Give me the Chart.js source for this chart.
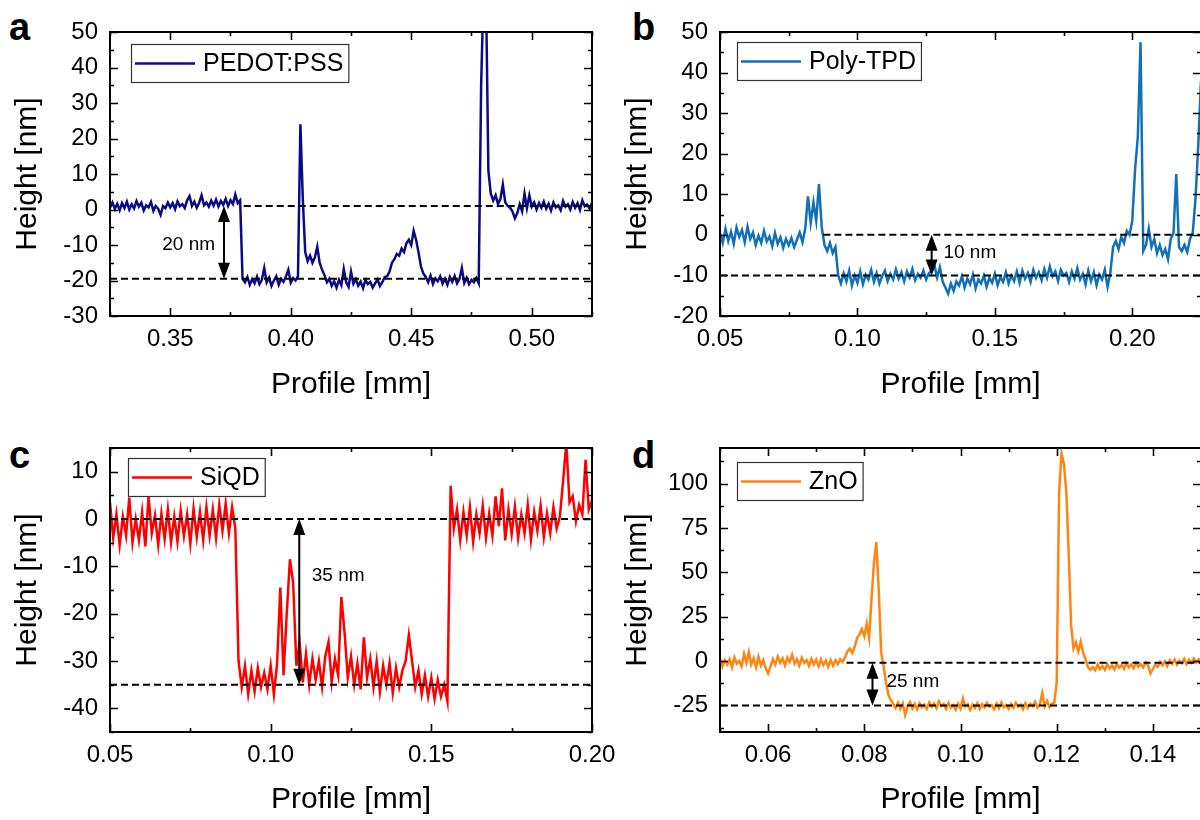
<!DOCTYPE html>
<html>
<head>
<meta charset="utf-8">
<script src="https://cdn.jsdelivr.net/npm/chart.js@4/dist/chart.umd.min.js"></script>
<style>
  html, body { margin: 0; padding: 0; background: #fff; overflow: hidden; }
  body { width: 1200px; height: 820px; position: relative; font-family: "Liberation Sans", Arial, sans-serif; }
  canvas { position: absolute; }
  .tag { position: absolute; font-weight: bold; font-size: 38px; line-height: 1; color: #000; }
</style>
</head>
<body>
<div class="tag" style="left:9px;top:8px">a</div>
<div class="tag" style="left:632px;top:8px">b</div>
<div class="tag" style="left:9px;top:436px">c</div>
<div class="tag" style="left:632px;top:436px">d</div>
<canvas id="chartB" width="600" height="410" style="left:610px;top:0"></canvas>
<canvas id="chartD" width="600" height="410" style="left:610px;top:410px"></canvas>
<canvas id="chartA" width="630" height="410" style="left:0;top:0"></canvas>
<canvas id="chartC" width="630" height="410" style="left:0;top:410px"></canvas>
<script>
// ---- data (height in nm at evenly spaced profile positions) ----

// a: PEDOT:PSS, 0.325 mm .. 0.525 mm every 0.001 mm
const pedotStart = 0.325, pedotStep = 0.001;
const pedotHeight = [
  0.5, 2.0, 0.2, 1.6, -0.2, 1.8, 0.4, 2.2, 0.0, 1.5,
  0.3, 2.4, 0.8, 1.9, -0.3, 1.2, 0.6, 2.1, -0.4, 1.0,
  0.2, -1.5, 1.0, 0.4, 2.0, 0.6, 1.8, 0.1, 2.3, 0.9,
  1.5, 0.4, 2.6, 3.8, 1.0, 2.2, 0.5, 1.9, 4.0, 1.2,
  2.0, 0.8, 2.5, 1.1, 2.8, 0.9, 2.4, 1.3, 3.0, 1.0,
  2.6, 1.5, 4.2, 1.8, 2.6, -19.5, -20.5, -19.0, -21.2, -19.6,
  -20.8, -18.9, -21.0, -19.8, -16.5, -20.5, -19.2, -21.5, -20.0, -18.8,
  -21.2, -19.5, -20.4, -18.9, -17.0, -20.6, -19.3, -20.0, -18.8, 24,
  3, -12, -14.5, -13, -15, -13.5, -10.5, -15, -17, -18.5,
  -20.5, -19.5, -21.5, -20.2, -22.0, -19.8, -21.3, -16.8, -20.5, -21.8,
  -17.5, -20.9, -19.6, -21.5, -20.3, -22.2, -19.9, -21.0, -20.4, -22.0,
  -20.8, -19.7, -21.6, -20.5, -19.0, -18.8, -17.5, -15.0, -14, -12.5,
  -13, -11, -12, -9.5, -8.5, -10, -6, -8.5, -12, -16,
  -18, -19.0, -20.5, -18.6, -21.0, -19.4, -20.2, -18.8, -20.9, -19.5,
  -21.2, -19.0, -20.4, -18.7, -20.8, -19.6, -16.5, -20.7, -19.2, -21.0,
  -19.8, -20.5, -19.3, -20.8, 35, 62, 62, 11, 4.5, 2.5,
  4.0, 1.5, 3.0, 7.0, 2.0, 1.0, 0.5, -0.5, -2.5, -1.0,
  1.5, -0.5, 4.5, 0.4, 4.0, 0.8, 2.0, 0.0, 1.8, 0.5,
  2.2, 0.2, 1.6, -0.3, 2.0, 0.6, 1.2, -0.2, 2.4, 0.8,
  1.5, 0.0, 2.1, 0.5, 1.8, -0.1, 2.6, 0.9, 1.4, 0.3, 1.9
];
const pedotGuides = [[0.3805, 0.525, 1], [0.325, 0.525, -19.5]];   // [from, to, level]
const pedotArrow = [0.3723, 1, -19.5];                              // [x, top, bottom]
const pedotNote = ['20 nm', 0.3686, -9.8, 'right'];

// b: Poly-TPD, 0.05 mm .. 0.225 mm every 0.001 mm
const polyStart = 0.05, polyStep = 0.001;
const polyHeight = [
  0.5, -2.0, 1.5, -1.5, 0.8, -2.2, 1.8, -0.5, 1.2, -1.8,
  2.0, -1.0, 0.6, -2.5, -0.2, -2.0, 1.0, -1.6, -0.4, -2.8,
  0.5, -2.2, -0.6, -3.2, -1.0, -2.6, -0.8, -3.0, -1.2, 0.6,
  -1.8, 1.5, 9.5, 3.0, 8.0, 3.5, 12.5, 2.0, -2.5, -4.0,
  -2.0, -4.5, -3.0, -10.0, -12.0, -9.5, -11.5, -8.8, -12.5, -10.0,
  -11.8, -9.0, -12.2, -9.8, -11.0, -8.6, -11.6, -9.4, -12.0, -10.2,
  -8.8, -11.4, -9.6, -11.0, -8.5, -10.8, -9.2, -11.5, -9.0, -10.5,
  -8.4, -11.2, -9.6, -10.6, -8.8, -11.0, -9.4, -9.0, -7.5, -10.5,
  -8.0, -11.5, -13.0, -14.5, -12.0, -13.8, -11.5, -12.5, -10.2, -13.0,
  -10.8, -12.2, -9.8, -13.2, -11.0, -12.0, -10.0, -12.8, -10.6, -11.8,
  -9.6, -12.4, -10.4, -11.6, -9.2, -12.0, -10.0, -11.4, -9.0, -11.8,
  -8.8, -10.8, -9.4, -11.6, -8.6, -10.6, -9.2, -11.2, -8.4, -10.6,
  -7.8, -10.2, -9.0, -11.4, -8.6, -10.0, -9.4, -11.6, -9.0, -10.8,
  -8.2, -11.0, -9.6, -12.2, -8.8, -11.4, -9.2, -12.4, -9.8, -11.0,
  -8.6, -12.8, -9.5, -3.0, -1.5, -3.5, -0.5, -2.0, 1.0, 0.0,
  3.5, 16, 24, 47.5, -4.0, -2.5, 1.5, -3.0, -1.0, -4.5,
  -2.5, -5.0, -3.5, -6.0, -1.0, 0.5, 15, -3.0, -4.0, -2.5,
  -4.2, -1.0, 0.5, 9.0, 22, 38
];
const polyGuides = [[0.0876, 0.225, 0], [0.05, 0.225, -10]];
const polyArrow = [0.127, 0, -10];
const polyNote = ['10 nm', 0.1313, -4.3, 'left'];

// c: SiQD, 0.05 mm .. 0.20 mm every 0.001 mm
const siqdStart = 0.05, siqdStep = 0.001;
const siqdHeight = [
  3.5, -4.0, 1.0, -5.5, 0.5, -3.5, 4.5, -5.0, 0.0, -4.5,
  1.5, -5.8, 4.8, -3.0, 0.8, -5.5, 1.2, -4.2, 2.0, -5.0,
  0.5, -4.8, 1.8, -3.6, 1.0, -5.2, 2.2, -3.8, 1.5, -4.5,
  2.5, -3.5, 2.0, -4.0, 3.0, -2.5, 3.2, -3.0, 2.5, -2.0,
  -30, -35.5, -31.0, -37.0, -32.0, -36.5, -31.5, -35.5, -32.5, -36.0,
  -31.0, -37.0, -30.5, -14.5, -33.0, -20.0, -8.5, -13.5, -31.0, -26.0,
  -34.5, -28.5, -35.0, -29.5, -34.0, -30.0, -35.5, -29.0, -26.0, -34.5,
  -29.5, -33.0, -16.5, -24.0, -33.5, -29.0, -35.0, -30.5, -36.0, -25.0,
  -33.5, -29.5, -35.5, -30.0, -36.5, -31.0, -35.0, -30.5, -36.8, -31.5,
  -35.5, -32.0, -30.0, -24.5, -30.0, -35.5, -32.0, -37.0, -33.0, -37.5,
  -33.5, -38.0, -34.0, -37.5, -35.0, -38.5, 7.0, -2.0, 2.0, -4.5,
  1.5, -3.5, 2.5, -4.8, 1.0, -3.0, 2.8, -4.0, 1.2, -3.5,
  4.8, -1.5, 6.5, -4.5, 2.0, -3.2, 2.6, -4.0, 1.0, -3.0,
  3.0, -4.4, 1.5, -2.5, 2.8, -3.8, 1.2, -3.0, 2.5, -2.0,
  0.5, 8.0, 16.0, 3.5, 4.8, -0.5, 3.0, 1.0, 12.5, 2.0, 4.0
];
const siqdGuides = [[0.05, 0.20, 0], [0.05, 0.20, -35]];
const siqdArrow = [0.1089, 0, -35];
const siqdNote = ['35 nm', 0.1128, -12, 'left'];

// d: ZnO, 0.05 mm .. 0.15 mm every 0.0005 mm
const zincStart = 0.05, zincStep = 0.0005;
const zincHeight = [
  1.5, -3.0, 0.5, -2.0, 1.0, -3.5, 2.0, -1.5, 0.0, -3.0,
  4.0, -1.0, 5.0, -2.0, 1.5, -3.5, 2.5, -2.5, 0.5, -4.0,
  -7.0, -3.0, 1.0, -2.0, 2.5, -1.0, 1.5, -2.5, 2.0, -0.5,
  3.5, -1.5, 1.0, -2.5, 1.8, -1.0, 0.5, -2.8, 1.2, -2.0,
  0.8, -3.0, 1.0, -2.2, 0.2, -3.2, 0.6, -2.6, 0.4, -1.8,
  1.0, -0.5, 2.0, 5.5, 7.0, 4.5, 8.0, 13.0, 15.0, 18.0,
  14.0, 21.0, 13.0, 35.0, 55.0, 67.0, 40.0, 5.0, -3.0, -12.0,
  -19.0, -22.0, -24.0, -26.5, -23.5, -27.0, -24.0, -30.5, -25.5, -23.2,
  -26.8, -24.2, -27.2, -23.8, -26.0, -24.6, -27.0, -23.4, -25.8, -24.0,
  -26.6, -22.8, -25.4, -24.2, -27.0, -23.6, -26.2, -24.8, -27.4, -24.0,
  -26.8, -21.0, -25.6, -24.4, -27.6, -24.6, -26.4, -23.8, -27.0, -24.4,
  -26.2, -23.6, -25.8, -24.8, -27.2, -24.0, -26.6, -23.4, -26.0, -24.8,
  -27.0, -24.2, -26.4, -23.6, -25.8, -24.6, -27.2, -23.8, -26.4, -24.2,
  -25.6, -23.0, -26.2, -24.4, -18.0, -25.5, -22.5, -26.0, -24.0, -23.5,
  -12.0, 95.0, 117.0, 111.0, 95.0, 60.0, 20.0, 7.0, 10.5, 5.5,
  11.0, 4.5, 1.0, -3.5, -5.0, -3.5, -5.2, -2.0, -4.6, -2.8,
  -5.0, -1.8, -4.2, -2.5, -4.8, -1.6, -3.8, -2.2, -4.4, -1.2,
  -3.6, -2.0, -4.0, -1.0, -3.2, -1.8, -3.6, -0.8, -2.6, -7.0,
  -4.5, -2.0, -3.2, -0.6, -2.4, -0.2, -2.8, 0.4, -1.6, 0.8,
  -2.0, 0.2, -1.2, 1.2, -1.8, 0.6, -1.0, 1.4, -0.8, 1.0, 0.2
];
const zincGuides = [[0.0763, 0.15, -1], [0.05, 0.15, -25]];
const zincArrow = [0.0817, -1, -25];
const zincNote = ['25 nm', 0.0846, -11.7, 'left'];

// axis ticks
const xTicksA = [0.35, 0.40, 0.45, 0.50], xMinorA = [0.325, 0.375, 0.425, 0.475, 0.525];
const yTicksA = [-30, -20, -10, 0, 10, 20, 30, 40, 50], yMinorA = [-25, -15, -5, 5, 15, 25, 35, 45];
const xTicksB = [0.05, 0.10, 0.15, 0.20], xMinorB = [0.075, 0.125, 0.175];
const yTicksB = [-20, -10, 0, 10, 20, 30, 40, 50], yMinorB = [-15, -5, 5, 15, 25, 35, 45];
const xTicksC = [0.05, 0.10, 0.15, 0.20], xMinorC = [0.075, 0.125, 0.175];
const yTicksC = [-40, -30, -20, -10, 0, 10], yMinorC = [-45, -35, -25, -15, -5, 5, 15];
const xTicksD = [0.06, 0.08, 0.10, 0.12, 0.14], xMinorD = [0.05, 0.07, 0.09, 0.11, 0.13, 0.15];
const yTicksD = [-25, 0, 25, 50, 75, 100], yMinorD = [-37.5, -12.5, 12.5, 37.5, 62.5, 87.5, 112.5];

const FONT = '"Liberation Sans", Arial, sans-serif';

function toPoints(start, step, heights) {
  return heights.map((h, i) => ({ x: +(start + i * step).toFixed(5), y: h }));
}

// frame + inward ticks on all four sides
const framePlugin = {
  id: 'frame',
  afterDraw(chart, args, opts) {
    const { ctx, chartArea: a } = chart;
    const x = chart.scales.x, y = chart.scales.y;
    ctx.save();
    ctx.strokeStyle = '#000';
    ctx.lineWidth = 1.6;
    ctx.beginPath();
    const xs = (list, len) => list.forEach(v => {
      const p = Math.round(x.getPixelForValue(v)) + 0.5;
      ctx.moveTo(p, a.bottom); ctx.lineTo(p, a.bottom - len);
      ctx.moveTo(p, a.top); ctx.lineTo(p, a.top + len);
    });
    const ys = (list, len) => list.forEach(v => {
      const p = Math.round(y.getPixelForValue(v)) + 0.5;
      ctx.moveTo(a.left, p); ctx.lineTo(a.left + len, p);
      ctx.moveTo(a.right, p); ctx.lineTo(a.right - len, p);
    });
    xs(opts.xMajor, 8); xs(opts.xMinor, 4);
    ys(opts.yMajor, 8); ys(opts.yMinor, 4);
    ctx.stroke();
    ctx.lineWidth = 2;
    ctx.strokeRect(a.left, a.top, a.right - a.left, a.bottom - a.top);
    ctx.restore();
  }
};

// legend drawn inside the plot, with a thin box
const boxLegend = {
  id: 'boxLegend',
  afterDraw(chart, args, opts) {
    const ds = chart.data.datasets.find(d => d.label);
    const { ctx, chartArea: a } = chart;
    ctx.save();
    ctx.font = '25px ' + FONT;
    const left = a.left + opts.dx, top = a.top + opts.dy;
    const w = 72 + ctx.measureText(ds.label).width + 5, h = 38;
    ctx.fillStyle = '#fff';
    ctx.fillRect(left, top, w, h);
    ctx.strokeStyle = '#333';
    ctx.lineWidth = 1.2;
    ctx.strokeRect(left + 0.5, top + 0.5, w, h);
    ctx.strokeStyle = ds.borderColor;
    ctx.lineWidth = 2.5;
    ctx.beginPath();
    ctx.moveTo(left + 4, top + h / 2 + 0.5);
    ctx.lineTo(left + 64, top + h / 2 + 0.5);
    ctx.stroke();
    ctx.fillStyle = '#000';
    ctx.textBaseline = 'middle';
    ctx.fillText(ds.label, left + 72, top + h / 2 + 1);
    ctx.restore();
  }
};

// double arrow with step height label
const stepNote = {
  id: 'stepNote',
  afterDatasetsDraw(chart, args, opts) {
    const { ctx } = chart;
    const x = chart.scales.x, y = chart.scales.y;
    const ax = x.getPixelForValue(opts.arrow[0]);
    const y1 = y.getPixelForValue(opts.arrow[1]), y2 = y.getPixelForValue(opts.arrow[2]);
    const head = 16, half = 6;
    ctx.save();
    ctx.strokeStyle = '#000';
    ctx.fillStyle = '#000';
    ctx.lineWidth = 2;
    ctx.beginPath();
    ctx.moveTo(ax, y1 + head - 2);
    ctx.lineTo(ax, y2 - head + 2);
    ctx.stroke();
    ctx.beginPath();
    ctx.moveTo(ax, y1); ctx.lineTo(ax - half, y1 + head); ctx.lineTo(ax + half, y1 + head); ctx.closePath();
    ctx.moveTo(ax, y2); ctx.lineTo(ax - half, y2 - head); ctx.lineTo(ax + half, y2 - head); ctx.closePath();
    ctx.fill();
    ctx.font = '19px ' + FONT;
    ctx.textAlign = opts.note[3];
    ctx.textBaseline = 'middle';
    ctx.fillText(opts.note[0], x.getPixelForValue(opts.note[1]), y.getPixelForValue(opts.note[2]));
    ctx.restore();
  }
};

function makePanel(id, p) {
  const datasets = p.guides.map(g => ({
    data: [{ x: g[0], y: g[2] }, { x: g[1], y: g[2] }],
    borderColor: '#000', borderWidth: 2, borderDash: [7, 4], pointRadius: 0
  }));
  datasets.push({
    label: p.label,
    data: toPoints(p.start, p.step, p.heights),
    borderColor: p.color, borderWidth: 2.5, pointRadius: 0, tension: 0
  });
  return new Chart(document.getElementById(id), {
    type: 'line',
    data: { datasets },
    options: {
      responsive: false,
      animation: false,
      events: [],
      layout: { padding: { left: 0, top: p.top, right: p.right, bottom: 0 } },
      plugins: {
        legend: { display: false },
        tooltip: { enabled: false },
        boxLegend: { dx: p.legend[0], dy: p.legend[1] },
        stepNote: { arrow: p.arrow, note: p.note },
        frame: { xMajor: p.xTicks, xMinor: p.xMinor, yMajor: p.yTicks, yMinor: p.yMinor }
      },
      scales: {
        x: {
          type: 'linear', min: p.xRange[0], max: p.xRange[1],
          afterBuildTicks: s => { s.ticks = p.xTicks.map(v => ({ value: v })); },
          afterFit: s => { s.height = p.xh; s.paddingLeft = 0; s.paddingRight = 0; },
          grid: { display: false, drawTicks: false },
          border: { display: false },
          ticks: { font: { size: 24, family: FONT }, color: '#000', padding: 9, maxRotation: 0, autoSkip: false,
                   callback: v => v.toFixed(2) },
          title: { display: true, text: 'Profile [mm]', color: '#000', font: { size: 30, family: FONT },
                   padding: { top: 0, bottom: p.xtPad } }
        },
        y: {
          type: 'linear', min: p.yRange[0], max: p.yRange[1],
          afterBuildTicks: s => { s.ticks = p.yTicks.map(v => ({ value: v })); },
          afterFit: s => { s.width = 110; s.paddingTop = 0; s.paddingBottom = 0; },
          grid: { display: false, drawTicks: false },
          border: { display: false },
          ticks: { font: { size: 24, family: FONT }, color: '#000', padding: 12, autoSkip: false,
                   callback: v => String(v) },
          title: { display: true, text: 'Height [nm]', color: '#000', font: { size: 30, family: FONT },
                   padding: { top: 10, bottom: 0 } }
        }
      }
    },
    plugins: [stepNote, framePlugin, boxLegend]
  });
}

makePanel('chartA', {
  label: 'PEDOT:PSS', color: '#0a0a87', start: pedotStart, step: pedotStep, heights: pedotHeight,
  guides: pedotGuides, arrow: pedotArrow, note: pedotNote,
  xRange: [0.325, 0.525], yRange: [-30, 50], xTicks: xTicksA, xMinor: xMinorA, yTicks: yTicksA, yMinor: yMinorA,
  top: 32, right: 38, xh: 94, xtPad: 7, legend: [21, 12]
});
makePanel('chartB', {
  label: 'Poly-TPD', color: '#1170b8', start: polyStart, step: polyStep, heights: polyHeight,
  guides: polyGuides, arrow: polyArrow, note: polyNote,
  xRange: [0.05, 0.225], yRange: [-20, 50], xTicks: xTicksB, xMinor: xMinorB, yTicks: yTicksB, yMinor: yMinorB,
  top: 32, right: 9, xh: 94, xtPad: 7, legend: [17, 10]
});
makePanel('chartC', {
  label: 'SiQD', color: '#ff0000', start: siqdStart, step: siqdStep, heights: siqdHeight,
  guides: siqdGuides, arrow: siqdArrow, note: siqdNote,
  xRange: [0.05, 0.20], yRange: [-45, 15], xTicks: xTicksC, xMinor: xMinorC, yTicks: yTicksC, yMinor: yMinorC,
  top: 38, right: 38, xh: 88, xtPad: 2, legend: [18, 10]
});
makePanel('chartD', {
  label: 'ZnO', color: '#ff8512', start: zincStart, step: zincStep, heights: zincHeight,
  guides: zincGuides, arrow: zincArrow, note: zincNote,
  xRange: [0.05, 0.15], yRange: [-40, 120], xTicks: xTicksD, xMinor: xMinorD, yTicks: yTicksD, yMinor: yMinorD,
  top: 38, right: 9, xh: 88, xtPad: 2, legend: [17, 14]
});
</script>
</body>
</html>
